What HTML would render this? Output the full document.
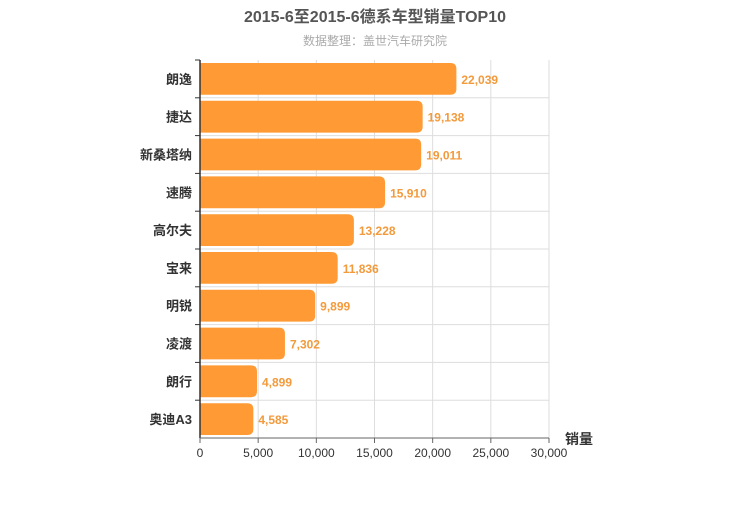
<!DOCTYPE html>
<html><head><meta charset="utf-8"><style>
body{margin:0;background:#fff;}
svg text{font-family:"Liberation Sans","Noto Sans CJK SC",sans-serif;}
</style></head><body>
<svg id="chart" width="750" height="500">
<text x="375" y="22" text-anchor="middle" font-size="16" font-weight="bold" fill="#555">2015-6至2015-6德系车型销量TOP10</text>
<text x="375" y="45" text-anchor="middle" font-size="12" fill="#aaa">数据整理：盖世汽车研究院</text>
<g id="grid"></g><g id="bars"></g><g id="axes"></g>
<text x="565" y="444" font-size="14" font-weight="bold" fill="#333">销量</text>
</svg>
<script>
const categories=["朗逸","捷达","新桑塔纳","速腾","高尔夫","宝来","明锐","凌渡","朗行","奥迪A3"];
const values=[22039,19138,19011,15910,13228,11836,9899,7302,4899,4585];
const ticks=[0,5000,10000,15000,20000,25000,30000];
const tickLabels=["0","5,000","10,000","15,000","20,000","25,000","30,000"];
const NS="http://www.w3.org/2000/svg";
const x0=200,x1=549,yTop=60,yBot=438,xMax=30000;
const xs=v=>x0+(v/xMax)*(x1-x0);
const band=(yBot-yTop)/categories.length;
const ys=i=>yTop+i*band;
function mk(t,a,p){const e=document.createElementNS(NS,t);for(const k in a)e.setAttribute(k,a[k]);p.appendChild(e);return e;}
const grid=document.getElementById('grid'),bars=document.getElementById('bars'),axes=document.getElementById('axes');
ticks.forEach((t,i)=>{
 if(i>0){const l=mk('line',{x1:xs(t),x2:xs(t),y1:yTop,y2:yBot,stroke:'#ddd'},grid);
 
 }
 mk('line',{x1:xs(t),x2:xs(t),y1:yBot,y2:yBot+5,stroke:'#666'},axes);
 const tx=mk('text',{x:xs(t),y:yBot+19,'text-anchor':'middle','font-size':12,fill:'#333'},axes);
 tx.textContent=tickLabels[i];
 
 
});
categories.forEach((c,i)=>{
 if(i>0){const g=mk('line',{x1:x0,x2:x1,y1:ys(i),y2:ys(i),stroke:'#ddd'},grid);
 
 }
 const y=ys(i)+3,h=band-6,w=xs(values[i])-x0,r=6;
 const p=mk('path',{d:`M${x0},${y}H${x0+w-r}Q${x0+w},${y} ${x0+w},${y+r}V${y+h-r}Q${x0+w},${y+h} ${x0+w-r},${y+h}H${x0}Z`,fill:'#ff9a35'},bars);
 
 
 const v=mk('text',{x:x0+w+5,y:ys(i)+band/2+5,'font-size':12,'font-weight':'bold',fill:'#f39a3c'},bars);
 v.textContent=values[i].toLocaleString('en-US');
 
 
 const l=mk('text',{x:192,y:ys(i)+band/2+5,'text-anchor':'end','font-size':13,'font-weight':'bold',fill:'#333'},axes);
 l.textContent=c;
 
 
 mk('line',{x1:x0-5,x2:x0,y1:ys(i),y2:ys(i),stroke:'#333'},axes);
});
mk('line',{x1:x0,x2:x0,y1:yTop,y2:yBot,stroke:'#333','stroke-width':1.5},axes);
mk('line',{x1:x0,x2:x1,y1:yBot,y2:yBot,stroke:'#666'},axes);
mk('line',{x1:x1,x2:x1,y1:yTop,y2:yBot,stroke:'#ddd'},grid);
</script>
</body></html>
